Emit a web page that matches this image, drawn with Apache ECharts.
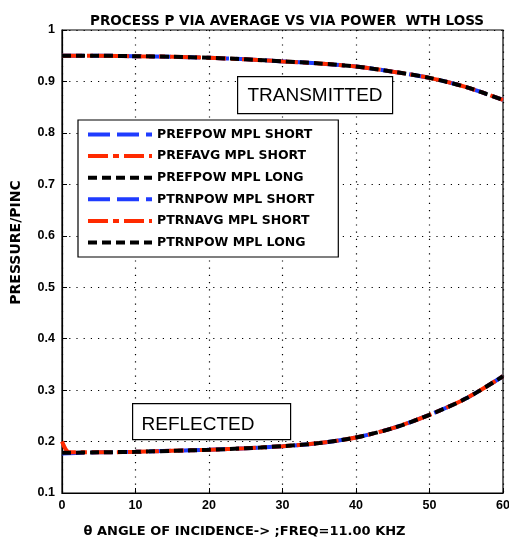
<!DOCTYPE html>
<html><head><meta charset="utf-8">
<script src="https://cdn.jsdelivr.net/npm/echarts@6/dist/echarts.min.js"></script>
<style>html,body{margin:0;padding:0;background:#fff}#c{width:509px;height:542px}</style>
</head><body><div id="c"></div>
<script>
const angles = [0,5,10,15,20,25,30,35,40,45,50,55,60];
const trnPowShort = [0.950,0.950,0.949,0.948,0.946,0.943,0.939,0.935,0.929,0.919,0.907,0.889,0.864];
const trnAvgShort = [0.950,0.950,0.949,0.948,0.946,0.943,0.939,0.935,0.929,0.919,0.907,0.889,0.864];
const trnPowLong  = [0.950,0.950,0.949,0.948,0.946,0.943,0.939,0.935,0.929,0.919,0.907,0.889,0.864];
const refPowShort = [0.177,0.179,0.180,0.182,0.184,0.187,0.191,0.197,0.208,0.226,0.252,0.284,0.327];
const refAvgAngles = [0,1,5,10,15,20,25,30,35,40,45,50,55,60];
const refAvgShort = [0.200,0.179,0.179,0.180,0.182,0.184,0.187,0.191,0.197,0.208,0.226,0.252,0.284,0.327];
const refPowLong  = [0.178,0.179,0.180,0.182,0.184,0.187,0.191,0.197,0.208,0.226,0.252,0.284,0.327];
const yTicks = [0.1,0.2,0.3,0.4,0.5,0.6,0.7,0.8,0.9,1];
const xTicks = [0,10,20,30,40,50,60];
const legendNames = ['PREFPOW MPL SHORT','PREFAVG MPL SHORT','PREFPOW MPL LONG','PTRNPOW MPL SHORT','PTRNAVG MPL SHORT','PTRNPOW MPL LONG'];

const pairs = (xs, ys) => xs.map((x, i) => [x, ys[i]]);
const FONT = 'Liberation Sans';
const WIDE = 'DejaVu Sans';
const BLUE = '#1f3cff', RED = '#ff2a00', BLACK = '#000';
const styles = {
  blue: {color: BLUE, type: [22, 7]},
  red: {color: RED, type: [20, 5, 6, 5]},
  black: {color: BLACK, type: [9, 5]}
};
function mk(name, data, st, z) {
  return {
    name, type: 'line', data, showSymbol: false, symbol: 'none', z,
    lineStyle: {color: st.color, width: 4, type: st.type},
    itemStyle: {color: st.color}, animation: false, smooth: 0.3
  };
}
const chart = echarts.init(document.getElementById('c'), null, {renderer: 'canvas'});
chart.setOption({
  animation: false,
  title: {
    text: 'PROCESS P VIA AVERAGE VS VIA POWER  WTH LOSS',
    left: 282, textAlign: 'center', top: 9,
    textStyle: {fontFamily: WIDE, fontSize: 13.5, fontWeight: 'bold', color: '#000'}
  },
  grid: {left: 62, right: 6, top: 30, bottom: 49, show: true, borderColor: '#000', borderWidth: 1.2, outerBoundsMode: 'none', containLabel: false},
  xAxis: {
    type: 'value', min: 0, max: 60, interval: 10,
    name: 'θ ANGLE OF INCIDENCE-> ;FREQ=11.00 KHZ',
    nameLocation: 'middle', nameGap: 32,
    nameTextStyle: {fontFamily: WIDE, fontSize: 13, fontWeight: 'bold', color: '#000', padding: [0, 76, 0, 0]},
    axisLine: {show: true, lineStyle: {color: '#000', width: 1.2}},
    axisTick: {show: true, inside: true, length: 5, lineStyle: {color: '#000'}},
    axisLabel: {fontFamily: FONT, fontSize: 12.5, fontWeight: 'bold', color: '#000', margin: 6, showMaxLabel: true,
      formatter: v => xTicks.includes(v) ? String(v) : ''},
    splitLine: {show: true, lineStyle: {color: '#000', type: [1.2, 6], width: 1.2}}
  },
  yAxis: {
    type: 'value', min: 0.1, max: 1, interval: 0.1,
    name: 'PRESSURE/PINC', nameLocation: 'middle', nameGap: 39, nameRotate: 90,
    nameTextStyle: {fontFamily: WIDE, fontSize: 14, fontWeight: 'bold', color: '#000', padding: [0, 0, 0, 38]},
    axisLine: {show: true, lineStyle: {color: '#000', width: 1.2}},
    axisTick: {show: true, inside: true, length: 5, lineStyle: {color: '#000'}},
    axisLabel: {fontFamily: FONT, fontSize: 12.5, fontWeight: 'bold', color: '#000', margin: 7,
      formatter: v => { const r = Math.round(v * 10) / 10; return yTicks.includes(r) ? (r === 1 ? '1' : r.toFixed(1)) : ''; }},
    splitLine: {show: true, lineStyle: {color: '#000', type: [1.2, 6], width: 1.2}}
  },
  legend: {
    orient: 'vertical', left: 78, top: 120,
    backgroundColor: '#fff', borderColor: '#000', borderWidth: 1.2,
    padding: [8, 24, 8, 8], itemWidth: 64, itemHeight: 14, itemGap: 8.6,
    itemStyle: {opacity: 0},
    lineStyle: {width: 4},
    textStyle: {fontFamily: WIDE, fontSize: 12.5, fontWeight: 'bold', color: '#000'},
    data: legendNames
  },
  graphic: [
    {type: 'rect', left: 237, top: 76, shape: {width: 155, height: 37}, style: {fill: '#fff', stroke: '#000', lineWidth: 1.2}, z: 100},
    {type: 'text', x: 315, y: 96, style: {text: 'TRANSMITTED', font: '19px "Liberation Sans"', fill: '#000', align: 'center', verticalAlign: 'middle'}, z: 101},
    {type: 'rect', left: 132, top: 403, shape: {width: 158, height: 36}, style: {fill: '#fff', stroke: '#000', lineWidth: 1.2}, z: 100},
    {type: 'text', x: 198, y: 425, style: {text: 'REFLECTED', font: '19px "Liberation Sans"', fill: '#000', align: 'center', verticalAlign: 'middle'}, z: 101}
  ],
  series: [
    mk(legendNames[0], pairs(angles, refPowShort), styles.blue, 2),
    mk(legendNames[1], pairs(refAvgAngles, refAvgShort), styles.red, 3),
    mk(legendNames[2], pairs(angles, refPowLong), styles.black, 4),
    mk(legendNames[3], pairs(angles, trnPowShort), styles.blue, 2),
    mk(legendNames[4], pairs(angles, trnAvgShort), styles.red, 3),
    mk(legendNames[5], pairs(angles, trnPowLong), styles.black, 4)
  ]
});
</script></body></html>
